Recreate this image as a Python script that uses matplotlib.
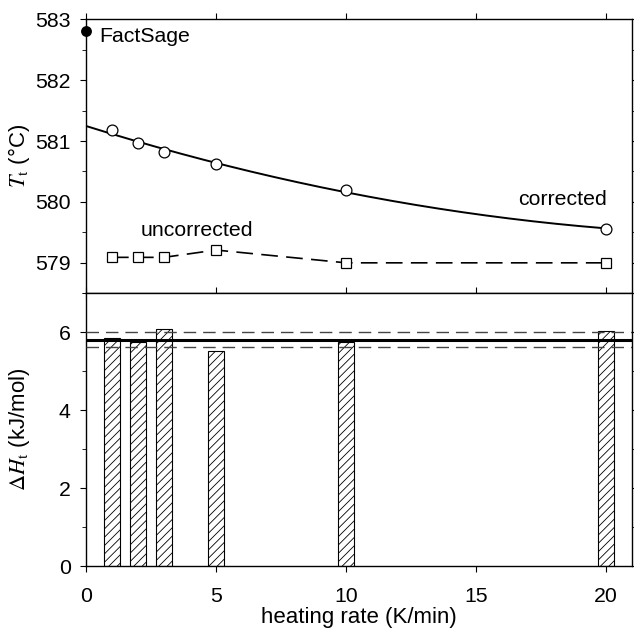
import numpy as np
import matplotlib
matplotlib.use("Agg")
import matplotlib.pyplot as plt
from matplotlib.ticker import MultipleLocator

plt.rcParams['font.family'] = ['Liberation Sans', 'DejaVu Sans']
plt.rcParams['mathtext.fontset'] = 'stix'
plt.rcParams['hatch.linewidth'] = 0.6

rates = [1, 2, 3, 5, 10, 20]
T_corrected = [581.18, 580.96, 580.82, 580.63, 580.19, 579.56]
T_uncorrected = [579.09, 579.09, 579.09, 579.21, 579.0, 579.0]
factsage_x = [0]
factsage_T = [582.8]
dH = [5.85, 5.74, 6.08, 5.52, 5.76, 6.03]
dH_mean = 5.81
dH_band = [5.61, 6.0]

fig = plt.figure(figsize=(6.34, 6.28), dpi=100)
L, R = 86/634, 632/634
ax1 = fig.add_axes([L, 0.533, R-L, 0.9693-0.533])
ax2 = fig.add_axes([L, 0.0987, R-L, 0.533-0.0987])

fs = 15.3
lfs = 16
# top panel
coef = np.polyfit(rates, T_corrected, 2)
xf = np.linspace(0, 20, 200)
ax1.plot(xf, np.polyval(coef, xf), color='black', lw=1.4, zorder=2)
ax1.plot(rates, T_corrected, 'o', ms=7.8, mfc='white', mec='black', mew=0.9, zorder=3)
ax1.plot(rates, T_uncorrected, color='black', lw=1.2, dashes=(10, 5), zorder=2)
ax1.plot(rates, T_uncorrected, 's', ms=7, mfc='white', mec='black', mew=0.9, zorder=3)
ax1.plot(factsage_x, factsage_T, 'o', ms=6.8, color='black', clip_on=False, zorder=4)
ax1.text(0.52, 582.72, 'FactSage', fontsize=fs, va='center', ha='left')
ax1.text(4.25, 579.53, 'uncorrected', fontsize=fs, va='center', ha='center')
ax1.text(20.05, 580.04, 'corrected', fontsize=fs, va='center', ha='right')
ax1.set_xlim(0, 21)
ax1.set_ylim(578.5, 583)
ax1.yaxis.set_major_locator(MultipleLocator(1))
ax1.yaxis.set_minor_locator(MultipleLocator(0.5))
ax1.xaxis.set_major_locator(MultipleLocator(5))
ax1.set_ylabel(r'$T_{\mathrm{t}}$ (°C)', fontsize=lfs)

# bottom panel
ax2.bar(rates, dH, width=0.6, color='white', edgecolor='black', linewidth=0.8,
        hatch='////', zorder=2)
ax2.axhline(dH_mean, color='black', lw=2.2, zorder=3)
for v in dH_band:
    ax2.axhline(v, color='#444444', lw=1.0, dashes=(9, 5), zorder=3)
ax2.set_xlim(0, 21)
ax2.set_ylim(0, 7)
ax2.yaxis.set_major_locator(MultipleLocator(2))
ax2.yaxis.set_minor_locator(MultipleLocator(1))
ax2.xaxis.set_major_locator(MultipleLocator(5))
ax2.set_yticks([0, 2, 4, 6])
ax2.set_ylabel(r'$\Delta H_{\mathrm{t}}$ (kJ/mol)', fontsize=lfs)
ax2.set_xlabel('heating rate (K/min)', fontsize=lfs, labelpad=1)

for ax in (ax1, ax2):
    ax.tick_params(which='both', direction='out', top=True, right=True, labelsize=fs)
    ax.tick_params(which='major', length=4)
    ax.tick_params(which='minor', length=3)
    ax.tick_params(axis='y', which='both', pad=7)
    ax.tick_params(axis='x', which='both', pad=11)
    for s in ax.spines.values():
        s.set_linewidth(1.0)
    ax.yaxis.set_label_coords(-0.099, 0.5)
ax1.tick_params(axis='x', labelbottom=False)

fig.savefig('out.png', dpi=100)
